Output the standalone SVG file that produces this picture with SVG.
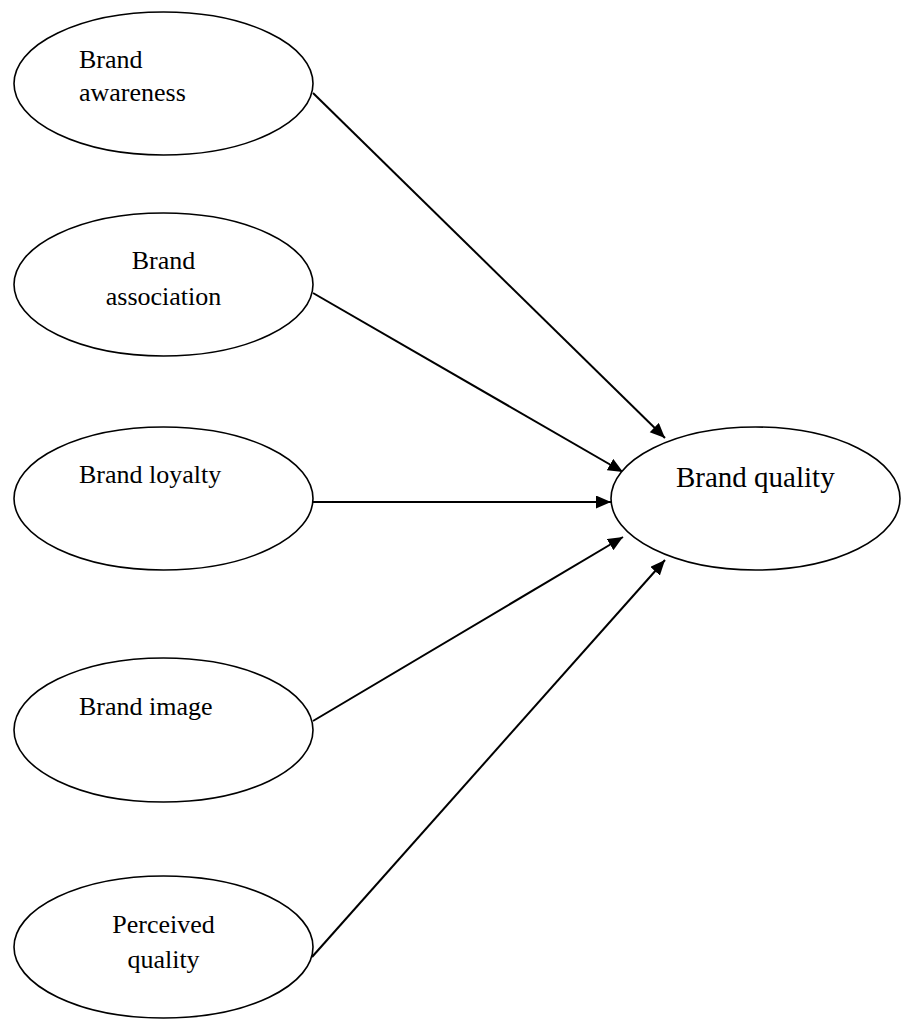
<svg xmlns="http://www.w3.org/2000/svg" width="901" height="1019" viewBox="0 0 901 1019">
<style>
.node ellipse{fill:#fff;stroke:#000;stroke-width:1.6}
.lbl{font-family:"Liberation Serif","Times New Roman",serif;font-size:26px;fill:#000}
.big{font-size:29px}
.edge{stroke:#000;stroke-width:2;fill:none;marker-end:url(#ah)}
</style>
<defs>
<marker id="ah" markerUnits="userSpaceOnUse" markerWidth="16" markerHeight="14" refX="15" refY="6.5" orient="auto">
<path d="M0,0 L15,6.5 L0,13 z" fill="#000"/>
</marker>
</defs>
<rect width="901" height="1019" fill="#fff"/>
<g id="connectors">
<line class="edge" x1="313" y1="93" x2="665" y2="438"/>
<line class="edge" x1="313" y1="293" x2="623" y2="472"/>
<line class="edge" x1="313" y1="502" x2="611" y2="502"/>
<line class="edge" x1="313" y1="721" x2="623" y2="537"/>
<line class="edge" x1="312" y1="957" x2="665" y2="560"/>
</g>
<g id="brand-awareness" class="node">
<ellipse cx="163.5" cy="83.5" rx="149.5" ry="71.5"/>
<text class="lbl" x="79" y="68">Brand</text>
<text class="lbl" x="79" y="101">awareness</text>
</g>
<g id="brand-association" class="node">
<ellipse cx="163.5" cy="284.5" rx="149.5" ry="71.5"/>
<text class="lbl" x="163.5" y="269" text-anchor="middle">Brand</text>
<text class="lbl" x="163.5" y="305" text-anchor="middle">association</text>
</g>
<g id="brand-loyalty" class="node">
<ellipse cx="163.5" cy="498.5" rx="149.5" ry="71.5"/>
<text class="lbl" x="79" y="483">Brand loyalty</text>
</g>
<g id="brand-image" class="node">
<ellipse cx="163.5" cy="730" rx="149.5" ry="72"/>
<text class="lbl" x="79" y="715">Brand image</text>
</g>
<g id="perceived-quality" class="node">
<ellipse cx="163.5" cy="947" rx="149.5" ry="71"/>
<text class="lbl" x="163.5" y="933" text-anchor="middle">Perceived</text>
<text class="lbl" x="163.5" y="968" text-anchor="middle">quality</text>
</g>
<g id="brand-quality" class="node">
<ellipse cx="755.5" cy="498.5" rx="144.5" ry="71.5"/>
<text class="lbl big" x="676" y="487">Brand quality</text>
</g>
</svg>
